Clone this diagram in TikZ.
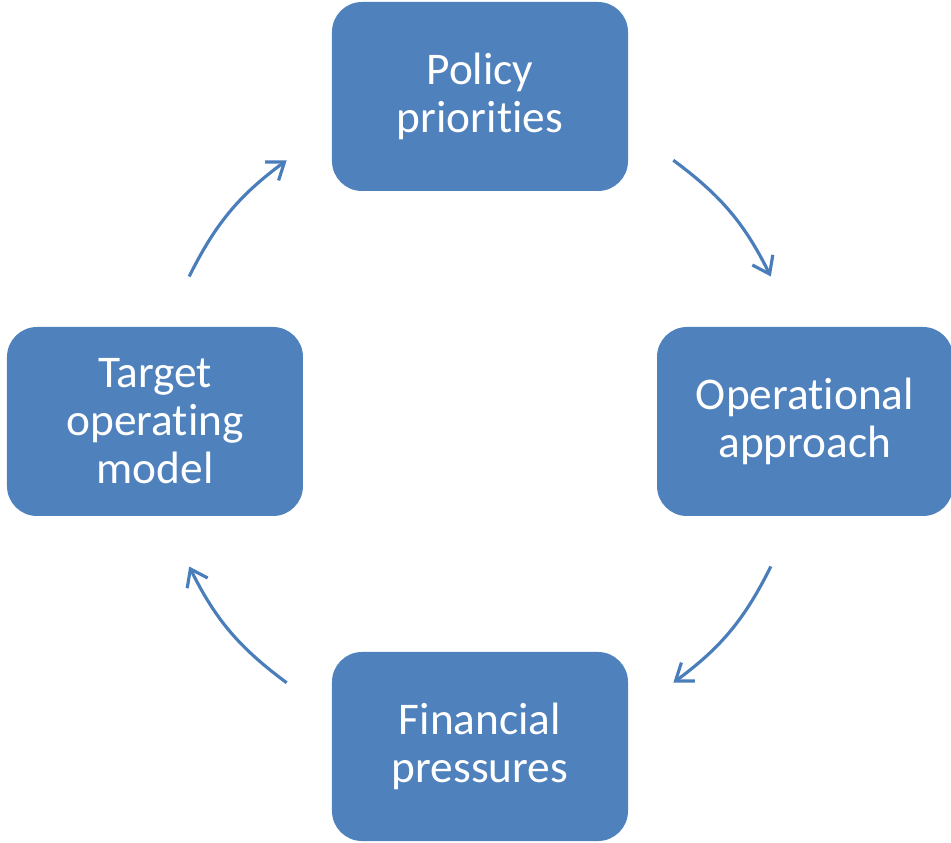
\documentclass[tikz,border=0pt]{standalone}
\usepackage{fontspec}
\setmainfont{Carlito}[Ligatures={NoCommon}]
\usetikzlibrary{positioning, arrows.meta, calc}
\definecolor{boxblue}{HTML}{4F81BD}
\definecolor{arrblue}{HTML}{4A7EBB}

\begin{document}
\begin{tikzpicture}[
    node distance=6.5cm,
    box/.style={fill=boxblue, rounded corners=0.6cm, minimum width=5.92cm, minimum height=3.78cm,
        text=white, align=center, font=\fontsize{25.8}{27.3}\selectfont},
    cyc/.style={draw=arrblue, line width=1.8pt, -{Straight Barb[length=9pt,width=13pt]}}
]
    \useasboundingbox (-9.6,-8.43) rectangle (9.42,8.43);
    \coordinate (c) at (0,0);
    \node[box, above of=c] (policy) {Policy\\priorities};
    \node[box, right of=c] (ops) {Operational\\approach};
    \node[box, below of=c] (fin) {Financial\\pressures};
    \node[box, left of=c] (tom) {Target\\operating\\model};

    \coordinate (p1) at ($(c)+(53.5:6.5)$);
    \coordinate (p2) at ($(c)+(26.5:6.5)$);
    \coordinate (p3) at ($(c)+(-26.5:6.5)$);
    \coordinate (p4) at ($(c)+(-53.5:6.5)$);
    \coordinate (p5) at ($(c)+(233.5:6.5)$);
    \coordinate (p6) at ($(c)+(206.5:6.5)$);
    \coordinate (p7) at ($(c)+(153.5:6.5)$);
    \coordinate (p8) at ($(c)+(126.5:6.5)$);

    \draw
        (p1) edge[cyc, bend left=13.5] (p2)
        (p3) edge[cyc, bend left=13.5] (p4)
        (p5) edge[cyc, bend left=13.5] (p6)
        (p7) edge[cyc, bend left=13.5] (p8)
        ;
\end{tikzpicture}
\end{document}
